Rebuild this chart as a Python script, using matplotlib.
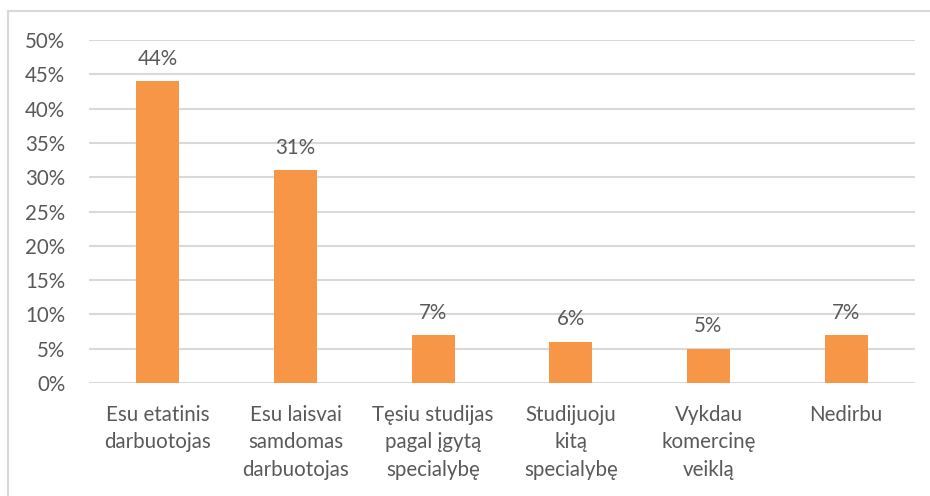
import matplotlib
matplotlib.use("Agg")
import matplotlib.pyplot as plt
from matplotlib.lines import Line2D

categories = ["Esu etatinis\ndarbuotojas", "Esu laisvai\nsamdomas\ndarbuotojas",
              "Tęsiu studijas\npagal įgytą\nspecialybę", "Studijuoju\nkitą\nspecialybę",
              "Vykdau\nkomercinę\nveiklą", "Nedirbu"]
values = [44, 31, 7, 6, 5, 7]
yticks = [0, 5, 10, 15, 20, 25, 30, 35, 40, 45, 50]

plt.rcParams['font.family'] = ['Lato', 'DejaVu Sans']
txt = "#595959"
fs = 14.8

fig = plt.figure(figsize=(9.3, 4.96), dpi=100)
ax = fig.add_axes([89/930, 113/496, (915-89)/930, (383-40)/496])
x = list(range(len(categories)))
ax.bar(x, values, width=0.31, color="#F79646", zorder=3)
for xi, v in zip(x, values):
    ax.text(xi, v + 1.8, f"{v}%", ha="center", va="bottom", fontsize=fs, color=txt)
ax.set_xlim(-0.5, len(categories) - 0.5)
ax.set_ylim(0, 50)
ax.set_yticks(yticks)
ax.set_yticklabels([f"{t}%" for t in yticks], fontsize=fs, color=txt)
ax.set_xticks(x)
ax.set_xticklabels(categories, fontsize=fs, color=txt, linespacing=1.45)
ax.tick_params(axis="both", length=0)
ax.tick_params(axis="x", pad=16)
ax.tick_params(axis="y", pad=17)
ax.grid(axis="y", color="#D9D9D9", linewidth=1.5, zorder=0)
for s in ax.spines.values():
    s.set_visible(False)

fig.lines.append(Line2D([8/930, 1.0], [1 - 11/496, 1 - 11/496], transform=fig.transFigure,
                        color="#D9D9D9", linewidth=1.5))
fig.lines.append(Line2D([8/930, 8/930], [0.0, 1 - 11/496], transform=fig.transFigure,
                        color="#D9D9D9", linewidth=1.5))
fig.savefig("out.png", dpi=100)
